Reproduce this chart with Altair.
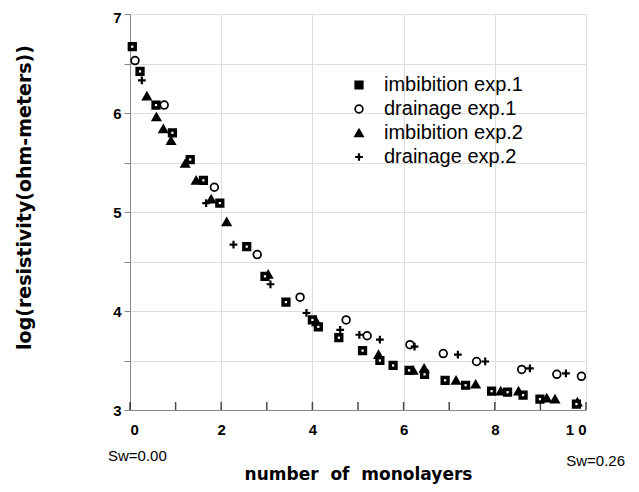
import altair as alt
import pandas as pd

series_names = ["imbibition exp.1", "drainage exp.1", "imbibition exp.2", "drainage exp.2"]

imb1_x = [0.05, 0.22, 0.57, 0.93, 1.32, 1.61, 1.97, 2.56, 2.96, 3.42, 4.00, 4.13, 4.58, 5.10, 5.48, 5.77, 6.12, 6.46, 6.91, 7.36, 7.93, 8.28, 8.62, 8.99, 9.79]
imb1_y = [6.67, 6.42, 6.08, 5.80, 5.53, 5.32, 5.09, 4.65, 4.35, 4.09, 3.91, 3.84, 3.73, 3.60, 3.50, 3.45, 3.40, 3.36, 3.30, 3.25, 3.19, 3.18, 3.15, 3.11, 3.06]

dr1_x = [0.11, 0.75, 1.85, 2.79, 3.73, 4.74, 5.20, 6.14, 6.87, 7.60, 8.59, 9.36, 9.90]
dr1_y = [6.53, 6.08, 5.25, 4.57, 4.14, 3.91, 3.75, 3.66, 3.57, 3.49, 3.41, 3.36, 3.34]

imb2_x = [0.37, 0.58, 0.73, 0.90, 1.21, 1.45, 1.78, 2.12, 3.03, 4.09, 5.45, 6.21, 6.45, 7.15, 7.58, 8.13, 8.52, 9.14, 9.32, 9.81]
imb2_y = [6.17, 5.96, 5.84, 5.72, 5.49, 5.32, 5.13, 4.90, 4.37, 3.89, 3.56, 3.40, 3.42, 3.30, 3.26, 3.19, 3.19, 3.12, 3.11, 3.08]

dr2_x = [0.26, 1.67, 2.27, 3.08, 3.87, 4.61, 5.03, 5.48, 6.24, 7.19, 7.79, 8.77, 9.56]
dr2_y = [6.33, 5.09, 4.67, 4.27, 3.98, 3.81, 3.76, 3.71, 3.64, 3.56, 3.49, 3.42, 3.37]

x_tick_values = [0, 1, 2, 3, 4, 5, 6, 7, 8, 9, 10]
x_label_values = [0, 2, 4, 6, 8, 10]
y_tick_values = [3, 3.5, 4, 4.5, 5, 5.5, 6, 6.5, 7]

rows = []
for name, xs, ys in zip(series_names, [imb1_x, dr1_x, imb2_x, dr2_x], [imb1_y, dr1_y, imb2_y, dr2_y]):
    for a, b in zip(xs, ys):
        rows.append({"series": name, "x": a, "y": b})
df = pd.DataFrame(rows)

W, H = 456, 396
FONT = "Liberation Sans"
PLUS = "M-1,0L1,0M0,-1L0,1"

xscale = alt.Scale(domain=[0, 10], nice=False, zero=False)
yscale = alt.Scale(domain=[3, 7], nice=False, zero=False)

xaxis = alt.Axis(
    values=x_label_values, ticks=False,
    labelExpr="datum.value == 10 ? '1 0' : datum.label",
    labelPadding=12, labelFontSize=15, labelFontWeight="bold",
    title="number\u00a0\u00a0of\u00a0\u00a0monolayers",
    titleFont="DejaVu Sans", titleFontSize=17, titleFontWeight="bold",
    titleX=228, titleY=64, titleAlign="center", titleBaseline="middle",
)
yaxis = alt.Axis(
    values=y_tick_values, tickSize=6,
    labelExpr="datum.value % 1 == 0 ? format(datum.value, 'd') : ''",
    labelOffset={"condition": {"test": "datum.value == 7", "value": 3}, "value": 0},
    labelPadding=3, labelFontSize=15, labelFontWeight="bold",
    title="log(resistivity(ohm-meters))",
    titleFont="DejaVu Sans", titleFontSize=19, titleFontWeight="bold",
    titleX=-106, titleY=183, titleAngle=270, titleAlign="center", titleBaseline="middle",
)

legend = alt.Legend(
    title=None, orient="none", legendX=219, legendY=61,
    labelFont=FONT, labelFontSize=20, labelColor="black", labelLimit=300,
    symbolSize=60, symbolStrokeColor="black",
    labelOffset=15, rowPadding=4, padding=0,
)

points = alt.Chart(df).mark_point(filled=True, stroke="black", size=60, opacity=1).encode(
    x=alt.X("x:Q", scale=xscale, axis=xaxis),
    y=alt.Y("y:Q", scale=yscale, axis=yaxis),
    shape=alt.Shape("series:N", scale=alt.Scale(domain=series_names, range=["square", "circle", "triangle-up", PLUS]), legend=legend),
    fill=alt.Fill("series:N", scale=alt.Scale(domain=series_names, range=["black", "white", "black", "black"]), legend=legend),
    stroke=alt.Stroke("series:N", scale=alt.Scale(domain=series_names, range=["black", "black", "black", "black"]), legend=legend),
    strokeWidth=alt.StrokeWidth("series:N", scale=alt.Scale(domain=series_names, range=[1.5, 2.2, 1.2, 2.8]), legend=legend),
)

dots = alt.Chart(df[df["series"] == series_names[0]]).mark_square(size=5, color="white", opacity=1).encode(
    x=alt.X("x:Q", scale=xscale),
    y=alt.Y("y:Q", scale=yscale),
)

ticks = alt.Chart(pd.DataFrame({"t": x_tick_values})).mark_tick(color="black", thickness=1.5, size=8).encode(
    x=alt.X("t:Q", scale=xscale),
    y=alt.value(H - 4),
)

sw0 = alt.Chart(pd.DataFrame({"x": [0], "label": ["Sw=0.00"]})).mark_text(
    align="left", baseline="middle", dx=-22, font=FONT, fontSize=15, color="black"
).encode(x=alt.X("x:Q", scale=xscale), y=alt.value(H + 46), text="label:N")

sw1 = alt.Chart(pd.DataFrame({"x": [10], "label": ["Sw=0.26"]})).mark_text(
    align="right", baseline="middle", dx=39, font=FONT, fontSize=15, color="black"
).encode(x=alt.X("x:Q", scale=xscale), y=alt.value(H + 51), text="label:N")

chart = alt.layer(points, dots, ticks, sw0, sw1).properties(
    width=W, height=H,
    autosize=alt.AutoSizeParams(type="none"),
    padding={"left": 122, "top": 6, "right": 45, "bottom": 74},
).configure_view(
    stroke="black", strokeWidth=2
).configure_axis(
    grid=False, domainColor="black", domainWidth=2, tickColor="black", tickWidth=1.5,
    labelColor="black", titleColor="black", labelFont=FONT,
).configure(background="white")

chart.save("out.html", embed_options={"renderer": "svg", "actions": False})
